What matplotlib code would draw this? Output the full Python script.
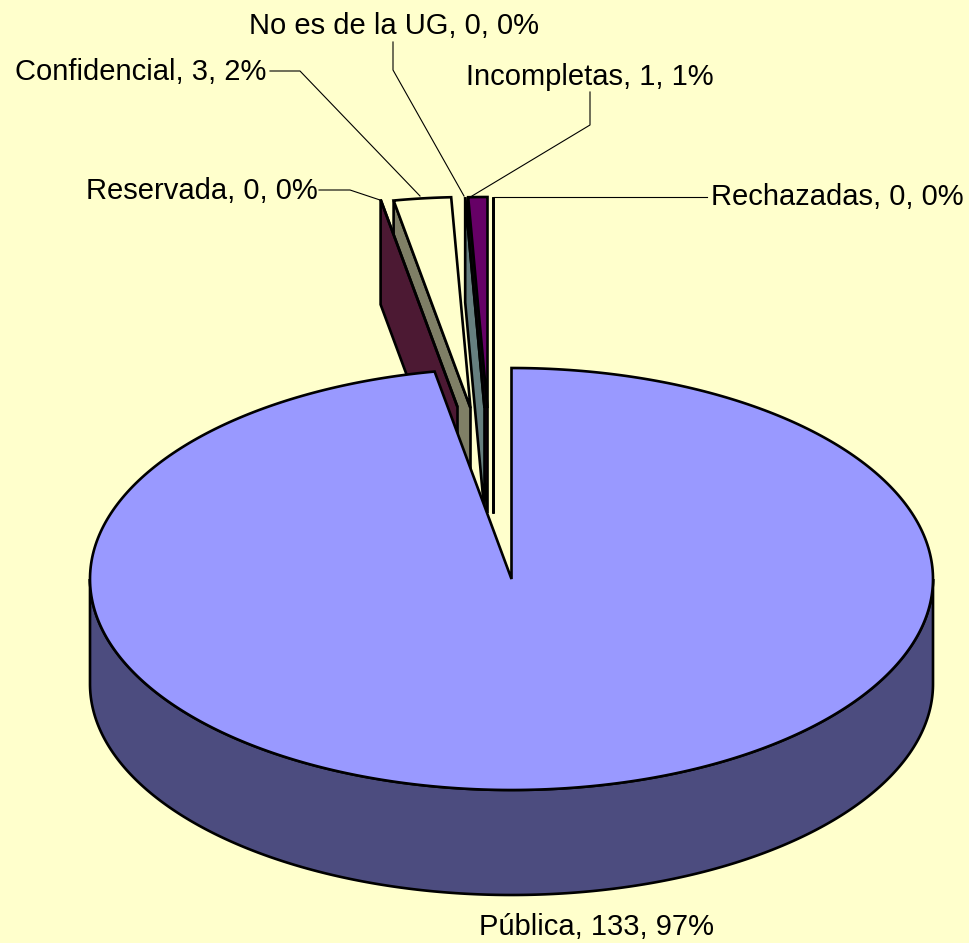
import numpy as np
import matplotlib
matplotlib.use('Agg')
import matplotlib.pyplot as plt

categorias = ['Pública', 'Reservada', 'Confidencial', 'No es de la UG', 'Incompletas', 'Rechazadas']
valores = [133, 0, 3, 0, 1, 0]
porcentajes = ['97%', '0%', '2%', '0%', '1%', '0%']

color_top = ['#9999FF', '#993366', '#FFFFCC', '#CCFFFF', '#660066', '#FF8080']
color_lado = ['#4C4C7F', '#4C1933', '#7F7F66', '#667F7F', '#330033', '#7F4040']

# layout in pixels
cx, cy = 511.5, 579
rx, ry = 421.5, 211
alto = 105
despl = [(0, 0), (-54, -172), (-41, -171), (-27, -171), (-24, -171), (-18, -171)]
lab_pos = [(597, 927), (202, 191), (141, 72), (394, 26), (590, 77), (837, 197)]
guias = [None,
         [(319, 190), (350, 190), (380, 200)],
         [(270, 71), (300, 71), (420, 196)],
         [(393, 42), (393, 70), (464, 196)],
         [(590, 92), (590, 125), (472, 196)],
         [(494, 197), (707, 197)]]

fig = plt.figure(figsize=(9.7, 9.43), dpi=100, facecolor='#FFFFCC')
ax = fig.add_axes([0, 0, 1, 1])
ax.set_xlim(0, 970)
ax.set_ylim(943, 0)
ax.axis('off')

LW = 1.9


def punto(a, ox=0, oy=0):
    return cx + ox + rx*np.cos(a), cy + oy - ry*np.sin(a)


# angles clockwise from the top
total = sum(valores)
fin = np.cumsum(valores)/total*2*np.pi
ini = np.r_[0, fin[:-1]]
a0 = np.pi/2 - ini
a1 = np.pi/2 - fin


def pared(i, a):
    ox, oy = despl[i]
    x, y = punto(a, ox, oy)
    ax.fill([x, x, cx+ox, cx+ox], [y, y+alto, cy+oy+alto, cy+oy],
            fc=color_lado[i], ec='black', lw=LW, joinstyle='miter', zorder=2)


def cara(i, z=3):
    ox, oy = despl[i]
    t = np.linspace(a0[i], a1[i], 400 if i == 0 else 30)
    x, y = punto(t, ox, oy)
    ax.fill(np.r_[cx+ox, x], np.r_[cy+oy, y], fc=color_top[i], ec='black',
            lw=LW, joinstyle='miter', zorder=z)


# small slices, back to front
pared(4, a0[4])
pared(3, a0[3])
cara(4)
cara(3)
pared(2, a0[2])
pared(1, a0[1])
cara(2)
cara(1)
pared(5, a0[5])
cara(5)

# big slice: rim then top
t = np.linspace(np.pi, 2*np.pi, 300)
x, y = punto(t)
ax.fill(np.r_[x, x[::-1]], np.r_[y, y[::-1]+alto], fc=color_lado[0], ec='black',
        lw=LW, zorder=4)
cara(0, z=5)

for g in guias:
    if g:
        ax.plot(*zip(*g), color='black', lw=0.8, zorder=6)

for c, v, p, (lx, ly) in zip(categorias, valores, porcentajes, lab_pos):
    ax.text(lx, ly, f'{c}, {v}, {p}', family='Liberation Sans', fontsize=21,
            ha='center', va='center', color='black', zorder=7)

fig.savefig('out.png', dpi=100, facecolor=fig.get_facecolor())
